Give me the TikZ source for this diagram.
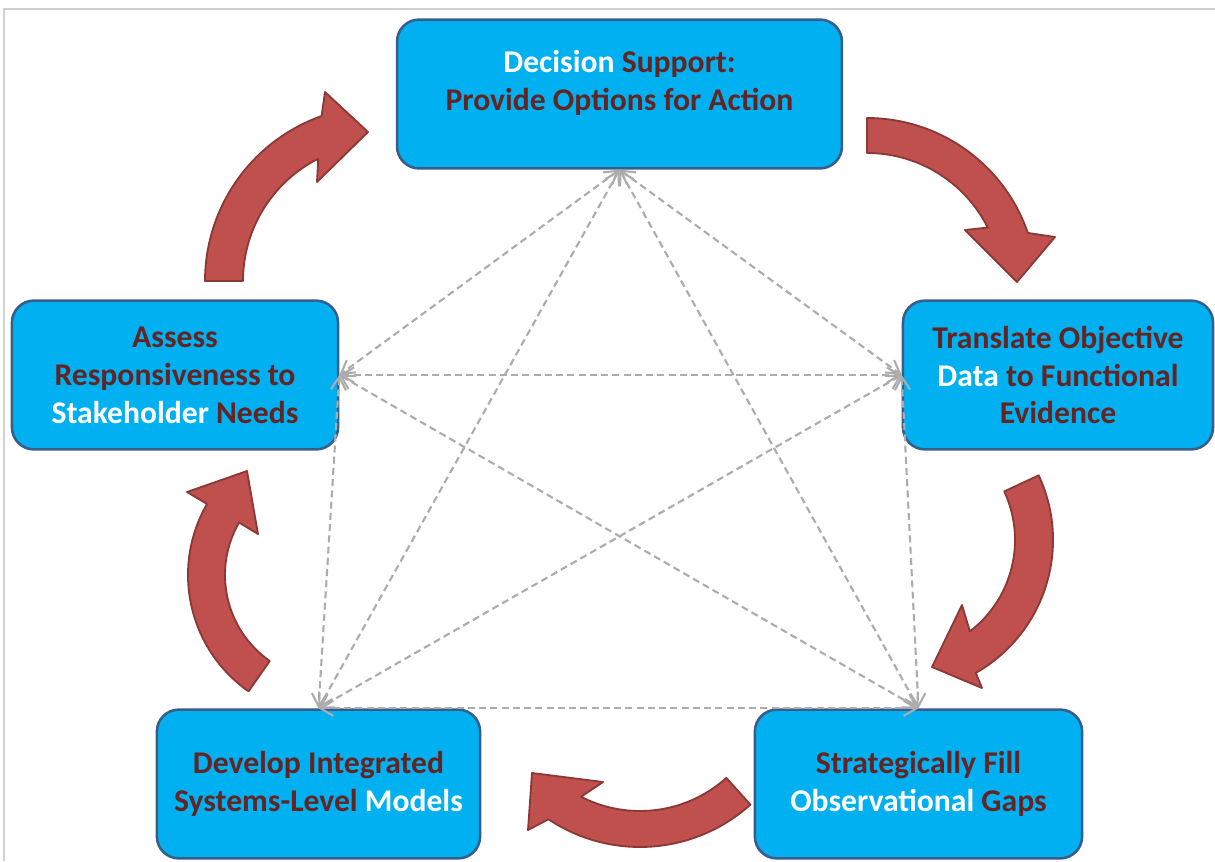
\documentclass[tikz,border=0pt]{standalone}
\usepackage{fontspec}
\setmainfont{Carlito}
\usepackage{tikz}
\usetikzlibrary{arrows.meta,calc}

\definecolor{boxblue}{RGB}{0,176,240}
\definecolor{boxedge}{RGB}{56,93,138}
\definecolor{darkred}{RGB}{99,37,35}
\definecolor{arrowred}{RGB}{192,80,77}
\definecolor{arrowedge}{RGB}{140,56,54}
\definecolor{linkgray}{RGB}{172,172,172}

\newcommand{\wht}[1]{\textcolor{white}{#1}}
% curved block arrow: centre, outer r, inner r, tail angle, outer/inner end angle, head outer, tip, head inner
\newcommand{\blockarc}[9]{%
  \draw[bendarrow] ($(#1)+(#4:#2)$) arc[start angle=#4, end angle=#5, radius=#2]
    -- (#7) -- (#8) -- (#9) -- ($(#1)+(#6:#3)$)
    arc[start angle=#6, end angle=#4, radius=#3] -- cycle;}

\begin{document}
\begin{tikzpicture}[
    x=0.025cm,
    y=0.025cm,
    >={Straight Barb[length=3.2mm,width=3.8mm]},
    stage/.style={draw=boxedge, line width=1.8pt, fill=boxblue, rounded corners=0.55cm, align=center, minimum height=3.72cm, inner sep=2pt, text=darkred, font=\fontsize{22.5}{27}\selectfont\bfseries},
    bendarrow/.style={draw=arrowedge, line width=1.3pt, fill=arrowred, line join=round},
    link/.style={<->, draw=linkgray, line width=1.5pt, dash pattern=on 5pt off 3pt},
    frame/.style={draw=black!18, line width=1pt}
]
\useasboundingbox (0,0) rectangle (1215,-861);
\draw[frame] (4,-861) -- (4,-9) -- (1215,-9);

% cycle arrows
\blockarc{380,-281}{175}{137}{180}{109.5}{116.8}{325,-92}{368,-132}{317,-182}
\blockarc{867,-288}{170}{135}{90}{18.9}{26.6}{1055,-237}{1017,-282}{965,-230}
\blockarc{900,-540}{153}{115}{25}{-60.3}{-52.6}{982,-688}{932,-667}{962,-605}
\blockarc{640,-682}{165}{129}{-48}{-123.7}{-117.2}{528,-830}{532,-773}{603,-782}
\blockarc{330,-575}{142}{105}{235}{150}{150}{187,-492}{247,-471}{258,-534}

\node[stage, minimum width=11.12cm, text depth=20pt] (decision) at (619.5,-94) {\wht{Decision} Support:\\Provide Options for Action};
\node[stage, minimum width=8.15cm] (assess) at (175,-375) {Assess\\Responsiveness to\\\wht{Stakeholder} Needs};
\node[stage, minimum width=7.75cm] (translate) at (1058,-375) {Translate Objective\\\wht{Data} to Functional\\Evidence};
\node[stage, minimum width=8.08cm] (develop) at (318.5,-784) {Develop Integrated\\Systems-Level \wht{Models}};
\node[stage, minimum width=8.18cm] (gaps) at (918.5,-784) {Strategically Fill\\\wht{Observational} Gaps};

\draw[link] (decision.south) -- (assess.east);
\draw[link] (decision.south) -- (translate.west);
\draw[link] (decision.south) -- (develop.north);
\draw[link] (decision.south) -- (gaps.north);
\draw[link] (assess.east) -- (translate.west);
\draw[link] (assess.east) -- (develop.north);
\draw[link] (assess.east) -- (gaps.north);
\draw[link] (translate.west) -- (develop.north);
\draw[link] (translate.west) -- (gaps.north);
\draw[link] (develop.north) -- (gaps.north);
\end{tikzpicture}
\end{document}
